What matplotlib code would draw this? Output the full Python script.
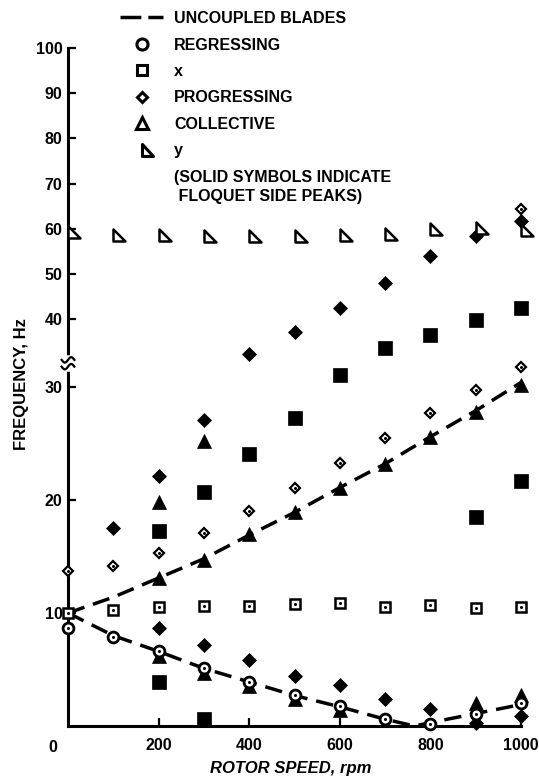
import numpy as np
import matplotlib
matplotlib.use('Agg')
import matplotlib.pyplot as plt
from matplotlib.path import Path
from matplotlib.lines import Line2D

plt.rcParams['font.family'] = ['Liberation Sans', 'DejaVu Sans']
plt.rcParams['font.weight'] = 'bold'
plt.rcParams['axes.labelweight'] = 'bold'

# rotor speed, rpm
rpm = [0, 100, 200, 300, 400, 500, 600, 700, 800, 900, 1000]

# uncoupled blade frequencies (dashed lines)
uncoupled_up = [10.0, 11.4, 13.1, 14.8, 16.9, 18.9, 21.1, 23.2, 25.6, 27.9, 30.4]
uncoupled_low_rpm = [0, 100, 200, 300, 400, 500, 600, 700, 765, 800, 900, 1000]
uncoupled_low = [10.0, 8.0, 6.6, 5.1, 3.9, 2.7, 1.7, 0.6, 0.0, 0.3, 1.1, 1.9]

# measured modes (open symbols)
regressing = [8.65, 7.85, 6.65, 5.1, 3.9, 2.7, 1.8, 0.6, 0.15, 1.1, 2.0]
x_mode = [10.0, 10.3, 10.5, 10.6, 10.65, 10.8, 10.85, 10.55, 10.75, 10.45, 10.55]
progressing = [13.7, 14.2, 15.3, 17.1, 19.05, 21.1, 23.3, 25.5, 27.7, 29.7, 31.8]
progressing_hi_rpm = [1000]
progressing_hi = [64.3]
y_mode = [59.2, 58.6, 58.6, 58.5, 58.5, 58.5, 58.6, 58.8, 60.0, 60.1, 59.8]

# Floquet side peaks (solid symbols)
side_dia_rpm = [100, 200, 300, 400, 500, 600, 700, 800, 900, 1000]
side_dia = [17.5, 22.1, 27.1, 32.3, 37.1, 42.5, 48.0, 53.9, 58.4, 61.8]
side_dia_low_rpm = [200, 300, 400, 500, 600, 700, 800, 900, 1000]
side_dia_low = [8.7, 7.2, 5.85, 4.4, 3.6, 2.4, 1.5, 0.3, 0.85]

side_sq_rpm = [200, 300, 400, 500, 600, 700, 800, 900, 1000]
side_sq = [17.3, 20.7, 24.1, 27.3, 31.1, 33.6, 36.6, 39.9, 42.5]
side_sq_low_rpm = [200, 300, 900, 1000]
side_sq_low = [3.9, 0.6, 18.5, 21.7]

side_tri_rpm = [200, 300, 400, 500, 600, 700, 800, 900, 1000]
side_tri = [13.1, 14.7, 17.0, 18.9, 21.1, 23.2, 25.6, 27.8, 30.2]
side_tri_hi_rpm = [200, 300]
side_tri_hi = [19.8, 25.2]
side_tri_low_rpm = [200, 300, 400, 500, 600, 900, 1000]
side_tri_low = [6.2, 4.7, 3.5, 2.4, 1.45, 2.0, 2.7]

xticks = [200, 400, 600, 800, 1000]
yticks = [10, 20, 30, 40, 50, 60, 70, 80, 90, 100]


# broken frequency axis: 0-32 Hz full scale, above that compressed
def fwd(f):
    f = np.asarray(f, dtype=float)
    return np.where(f <= 32, f, 20 + 0.4 * f)


def inv(t):
    t = np.asarray(t, dtype=float)
    return np.where(t <= 32, t, np.where(t < 32.8, 32.0, (t - 20) / 0.4))


# right-angle triangle marker for the y mode
ytri = Path([(0, 1), (0, -1), (2, -1), (0, 1)],
            [Path.MOVETO, Path.LINETO, Path.LINETO, Path.CLOSEPOLY])

dash = (0, (5.0, 2.6))

fig = plt.figure(figsize=(5.39, 7.84), dpi=100)
ax = fig.add_axes([68 / 539, 58 / 784, 453 / 539, 678 / 784])
ax.set_yscale('function', functions=(fwd, inv))
ax.set_xlim(0, 1000)
ax.set_ylim(0, 100)

kw = dict(ls='none', clip_on=False)
open_kw = dict(mfc='white', mec='black', **kw)
solid_kw = dict(color='black', mew=0.5, **kw)
dot_kw = dict(ls='none', marker='o', ms=2.2, mew=0, color='black', clip_on=False, zorder=6)

# dashed uncoupled curves
ax.plot(rpm, uncoupled_up, color='black', lw=2.5, ls=dash, zorder=2, clip_on=False)
ax.plot(uncoupled_low_rpm, uncoupled_low, color='black', lw=2.5, ls=dash, zorder=2, clip_on=False)

# side peaks
ax.plot(side_tri_rpm, side_tri, marker='^', ms=10.5, zorder=3, **solid_kw)
ax.plot(side_tri_hi_rpm, side_tri_hi, marker='^', ms=10.5, zorder=3, **solid_kw)
ax.plot(side_tri_low_rpm, side_tri_low, marker='^', ms=10.5, zorder=3, **solid_kw)
ax.plot(side_dia_rpm, side_dia, marker='D', ms=7, zorder=3, **solid_kw)
ax.plot(side_dia_low_rpm, side_dia_low, marker='D', ms=7, zorder=3, **solid_kw)
ax.plot(side_sq_rpm, side_sq, marker='s', ms=9.5, zorder=3, **solid_kw)
ax.plot(side_sq_low_rpm, side_sq_low, marker='s', ms=9.5, zorder=3, **solid_kw)

# measured modes
ax.plot(rpm, y_mode, marker=ytri, ms=17, mew=1.8, zorder=4, **open_kw)
ax.plot(rpm, x_mode, marker='s', ms=7.4, mew=1.8, zorder=5, **open_kw)
ax.plot(rpm, progressing, marker='D', ms=4.8, mew=1.6, zorder=5, **open_kw)
ax.plot(progressing_hi_rpm, progressing_hi, marker='D', ms=4.8, mew=1.6, zorder=5, **open_kw)
ax.plot(rpm, regressing, marker='o', ms=7.8, mew=2.0, zorder=5, **open_kw)
for xs, ys in [(rpm, x_mode), (rpm, progressing), (rpm, regressing),
               (progressing_hi_rpm, progressing_hi)]:
    ax.plot(xs, ys, **dot_kw)

# axes styling
for side in ['top', 'right']:
    ax.spines[side].set_visible(False)
for side in ['left', 'bottom']:
    ax.spines[side].set_linewidth(2.2)
ax.set_xticks(xticks)
ax.set_yticks(yticks)
ax.set_yticks([], minor=True)
ax.tick_params(direction='in', length=6, width=1.6, labelsize=11.5)
ax.tick_params(axis='x', pad=9)
ax.tick_params(axis='y', pad=4)
ax.annotate('0', xy=(0, 0), xytext=(-15, -21), textcoords='offset pixels',
            ha='center', va='center', fontsize=11.5, annotation_clip=False)

# axis break on the frequency scale
yb = 0.535
ax.plot([0, 0], [yb - 0.008, yb + 0.008], color='white', lw=4, transform=ax.transAxes,
        clip_on=False, zorder=7)
s = np.linspace(-1, 1, 30)
for off in (-0.005, 0.005):
    ax.plot(s * 0.014, yb + off + 0.004 * np.sin(np.pi * s), color='black', lw=1.6,
            transform=ax.transAxes, clip_on=False, zorder=8)

ax.set_ylabel('FREQUENCY, Hz', fontsize=12)
ax.yaxis.set_label_coords(-0.087, 0.505)
ax.set_xlabel('ROTOR SPEED, rpm', fontsize=12, style='italic')
ax.xaxis.set_label_coords(0.492, -0.052)

# legend
handles = [
    Line2D([], [], color='black', lw=2.5, ls=(0, (6.0, 2.0))),
    Line2D([], [], ls='none', marker='o', ms=8, mew=2.2, mfc='white', mec='black'),
    Line2D([], [], ls='none', marker='s', ms=7.5, mew=2.2, mfc='white', mec='black'),
    Line2D([], [], ls='none', marker='D', ms=5.5, mew=2.2, mfc='white', mec='black'),
    Line2D([], [], ls='none', marker='^', ms=8.5, mew=2.2, mfc='white', mec='black'),
    Line2D([], [], ls='none', marker=ytri, ms=16, mew=2.2, mfc='white', mec='black'),
    Line2D([], [], ls='none'),
]
labels = ['UNCOUPLED BLADES', 'REGRESSING', 'x', 'PROGRESSING', 'COLLECTIVE', 'y',
          '(SOLID SYMBOLS INDICATE\n FLOQUET SIDE PEAKS)']
leg = fig.legend(handles, labels, loc='upper left', bbox_to_anchor=(120 / 539, 1 - 11 / 784),
                 frameon=False, fontsize=11.5, handlelength=2.7, handletextpad=0.7,
                 labelspacing=0.72, borderpad=0, borderaxespad=0)
leg.get_texts()[-1].set_linespacing(1.3)

fig.savefig('out.png', dpi=100)
